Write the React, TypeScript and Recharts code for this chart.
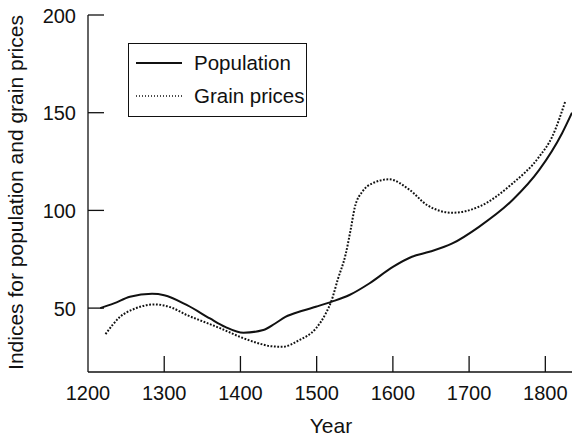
import React from "react";
import { LineChart, Line, XAxis, YAxis, Legend } from "recharts";

const populationYears = [1216, 1234, 1255, 1284, 1300, 1330, 1360, 1380, 1404, 1430, 1445, 1459, 1480, 1500, 1520, 1543, 1569, 1600, 1625, 1648, 1678, 1713, 1757, 1792, 1822, 1835];
const populationValues = [50, 52.4, 55.8, 57.3, 56.6, 51.5, 44.7, 40.4, 37.4, 38.8, 42, 45.5, 48.5, 50.8, 53.3, 56.7, 62.6, 71.1, 76.3, 78.8, 83.1, 91.6, 105.3, 120.7, 139.5, 150];

const grainYears = [1223, 1242, 1262, 1288, 1310, 1330, 1352, 1374, 1400, 1422, 1440, 1455, 1477, 1499, 1512, 1519, 1528, 1538, 1545, 1550, 1560, 1573, 1595, 1622, 1645, 1678, 1713, 1757, 1792, 1809, 1826];
const grainValues = [36.7, 45.5, 49.8, 51.9, 50.2, 46.4, 43, 39.6, 35.2, 32.2, 30.5, 30.2, 33.6, 39.6, 47.3, 53.3, 65, 77.5, 91, 101.5, 109.6, 113.8, 115.9, 110.5, 102.7, 98.8, 101.9, 113.8, 127.5, 137.7, 155.6];

const xTicks = [1200, 1300, 1400, 1500, 1600, 1700, 1800];
const yTicks = [50, 100, 150, 200];

const seriesNames = ["Population", "Grain prices"];
const xLabel = "Year";
const yLabel = "Indices for population and grain prices";

const populationData = populationYears.map((year, i) => ({ year, value: populationValues[i] }));
const grainData = grainYears.map((year, i) => ({ year, value: grainValues[i] }));

const FONT = "'Liberation Sans', Arial, Helvetica, sans-serif";
const INK = "#111";

const XTick = (props: any) => {
  const { x, y, payload } = props;
  return (
    <g>
      {payload.value !== 1200 && (
        <line x1={x} x2={x} y1={y} y2={y - 16} stroke={INK} strokeWidth={1.3} />
      )}
      <text x={x} y={y + 28} textAnchor="middle" fontSize={20} fontFamily={FONT} fill={INK}>
        {payload.value}
      </text>
    </g>
  );
};

const YTick = (props: any) => {
  const { x, y, payload } = props;
  return (
    <g>
      <line x1={x} x2={x + 16} y1={y} y2={y} stroke={INK} strokeWidth={1.3} />
      <text x={x - 12} y={y + 7.5} textAnchor="end" fontSize={20} fontFamily={FONT} fill={INK}>
        {payload.value}
      </text>
    </g>
  );
};

const YLabel = () => (
  <text
    x={23}
    y={192.5}
    transform="rotate(-90, 23, 192.5)"
    textAnchor="middle"
    fontSize={21}
    fontFamily={FONT}
    fill={INK}
  >
    {yLabel}
  </text>
);

const XLabel = () => (
  <text x={331} y={433} textAnchor="middle" fontSize={21} fontFamily={FONT} fill={INK}>
    {xLabel}
  </text>
);

const LegendBox = () => (
  <div
    style={{
      width: 179,
      height: 74,
      border: `1.5px solid ${INK}`,
      boxSizing: "border-box",
      background: "#fff",
      position: "relative",
    }}
  >
    <svg width={179} height={74} style={{ position: "absolute", left: -1.5, top: -1.5 }}>
      <line x1={8} x2={54} y1={20} y2={20} stroke={INK} strokeWidth={2} />
      <line x1={8} x2={54} y1={53} y2={53} stroke={INK} strokeWidth={1.3} strokeDasharray="1 2" />
      <text x={66} y={27} fontSize={20.5} fontFamily={FONT} fill={INK}>
        {seriesNames[0]}
      </text>
      <text x={66} y={60} fontSize={20.5} fontFamily={FONT} fill={INK}>
        {seriesNames[1]}
      </text>
    </svg>
  </div>
);

export default function App() {
  return (
    <div style={{ position: "absolute", left: 0, top: 0, width: 572, height: 436, background: "#fff" }}>
      <LineChart width={572} height={436} margin={{ top: 15, right: 0, bottom: 0, left: 0 }}>
        <XAxis
          type="number"
          dataKey="year"
          domain={[1200, 1835]}
          ticks={xTicks}
          allowDataOverflow
          height={64}
          tickSize={0}
          tickMargin={0}
          tickLine={false}
          axisLine={{ stroke: INK, strokeWidth: 1.3 }}
          tick={<XTick />}
          label={<XLabel />}
        />
        <YAxis
          type="number"
          domain={[17.3, 200]}
          ticks={yTicks}
          allowDataOverflow
          width={88}
          tickSize={0}
          tickMargin={0}
          tickLine={false}
          axisLine={{ stroke: INK, strokeWidth: 1.3 }}
          tick={<YTick />}
          label={<YLabel />}
        />
        <Legend
          layout="horizontal"
          verticalAlign="middle"
          align="center"
          content={<LegendBox />}
          wrapperStyle={{ position: "absolute", left: 128, top: 43, width: 179, height: 74 }}
        />
        <Line
          data={populationData}
          dataKey="value"
          name={seriesNames[0]}
          type="monotone"
          stroke={INK}
          strokeWidth={2}
          dot={false}
          isAnimationActive={false}
        />
        <Line
          data={grainData}
          dataKey="value"
          name={seriesNames[1]}
          type="monotone"
          stroke={INK}
          strokeWidth={2}
          strokeDasharray="1.8 1.6"
          dot={false}
          isAnimationActive={false}
        />
      </LineChart>
    </div>
  );
}
